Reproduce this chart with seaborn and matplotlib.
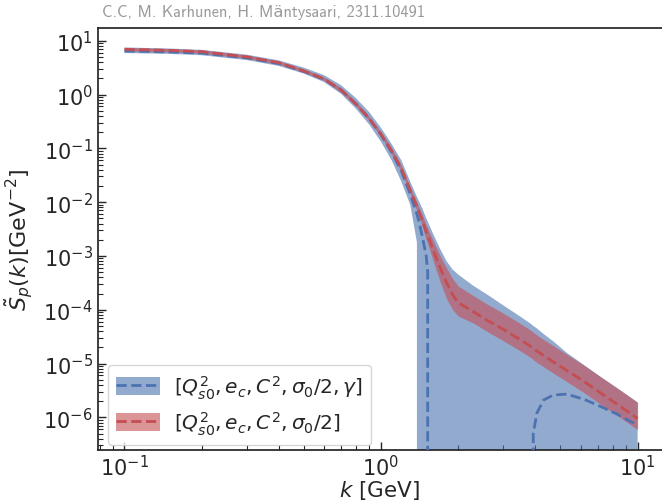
import numpy as np
import pandas as pd
import matplotlib
matplotlib.use("Agg")
import matplotlib.pyplot as plt
from matplotlib.patches import Patch
from matplotlib.lines import Line2D
import seaborn as sns

# ---------------- data ----------------
k = [0.1, 0.15, 0.2, 0.3, 0.4, 0.5, 0.6, 0.7, 0.8, 0.9, 1.0, 1.1, 1.2, 1.3,
     1.38, 1.40, 1.45, 1.50, 1.52, 1.54, 1.6, 1.7, 1.8, 1.9, 2.0, 2.3, 2.6,
     3.0, 3.5, 3.85, 3.92, 4.05, 4.3, 4.7, 5.3, 6.2, 7.2, 8.4, 10.0]

# fit without gamma (red): mean, upper, lower
red_mean = [6.9, 6.6, 6.24, 5.0, 3.9, 2.75, 1.95, 1.2, 0.66, 0.355, 0.182,
            8.9e-2, 4.2e-2, 1.66e-2, 8.3e-3, 6.9e-3, 4.5e-3, 2.8e-3, 2.4e-3,
            2.04e-3, 1.26e-3, 6.0e-4, 3.2e-4, 1.9e-4, 1.35e-4, 9.1e-5, 6.3e-5,
            4.3e-5, 2.75e-5, 2.05e-5, 1.9e-5, 1.7e-5, 1.41e-5, 1.07e-5, 7.4e-6,
            4.6e-6, 2.8e-6, 1.7e-6, 9.5e-7]
red_hi = [7.5, 7.15, 6.76, 5.4, 4.2, 2.98, 2.1, 1.33, 0.73, 0.39, 0.2,
          0.102, 4.8e-2, 1.9e-2, 9.8e-3, 8.3e-3, 5.7e-3, 3.7e-3, 3.3e-3,
          2.8e-3, 1.87e-3, 1.0e-3, 6.0e-4, 3.8e-4, 2.75e-4, 1.8e-4, 1.26e-4,
          8.6e-5, 5.5e-5, 4.1e-5, 3.8e-5, 3.4e-5, 2.8e-5, 2.14e-5, 1.48e-5,
          9.2e-6, 5.6e-6, 3.4e-6, 1.9e-6]
red_lo = [6.45, 6.15, 5.83, 4.68, 3.64, 2.57, 1.82, 1.1, 0.6, 0.324, 0.166,
          7.8e-2, 3.65e-2, 1.45e-2, 6.9e-3, 5.6e-3, 3.5e-3, 2.0e-3, 1.7e-3,
          1.4e-3, 7.9e-4, 3.3e-4, 1.6e-4, 1.0e-4, 7.6e-5, 5.6e-5, 3.9e-5,
          2.65e-5, 1.7e-5, 1.27e-5, 1.18e-5, 1.05e-5, 8.7e-6, 6.6e-6, 4.6e-6,
          2.85e-6, 1.73e-6, 1.05e-6, 5.9e-7]

# fit with gamma (blue): mean, upper, lower
blue_mean = [6.45, 6.17, 5.89, 4.79, 3.76, 2.69, 1.93, 1.2, 0.66, 0.355,
             0.178, 8.5e-2, 3.8e-2, 1.41e-2, 6.0e-3, 4.7e-3, 2.24e-3, 1.0e-3,
             5.0e-4, -2.0e-4, -3.0e-4, -2.5e-4, -1.5e-4, -1.0e-4, -8.0e-5,
             -5.0e-5, -3.0e-5, -1.5e-5, -6.0e-6, -1.0e-6, 5.0e-7, 1.2e-6,
             2.1e-6, 2.6e-6, 2.7e-6, 2.15e-6, 1.58e-6, 1.12e-6, 7.1e-7]
blue_hi = [7.5, 7.16, 6.76, 5.5, 4.31, 3.16, 2.29, 1.48, 0.85, 0.47, 0.24,
           0.12, 6.0e-2, 2.4e-2, 1.25e-2, 1.08e-2, 7.6e-3, 5.0e-3, 4.4e-3,
           3.8e-3, 2.5e-3, 1.35e-3, 8.0e-4, 5.6e-4, 4.5e-4, 2.75e-4, 1.9e-4,
           1.2e-4, 7.4e-5, 5.4e-5, 5.0e-5, 4.5e-5, 3.55e-5, 2.57e-5, 1.58e-5,
           9.3e-6, 5.6e-6, 3.4e-6, 1.9e-6]
blue_lo = [5.9, 5.7, 5.37, 4.37, 3.39, 2.45, 1.7, 1.02, 0.54, 0.275, 0.132,
           6.0e-2, 2.4e-2, 8.9e-3, 1.8e-3, -1.0e-3, -1.4e-3, -1.6e-3,
           -1.6e-3, -1.5e-3, -1.3e-3, -1.0e-3, -7.0e-4, -5.0e-4, -4.0e-4,
           -2.5e-4, -1.8e-4, -1.3e-4, -9.0e-5, -7.0e-5, -6.5e-5, -6.0e-5,
           -5.0e-5, -4.0e-5, -3.0e-5, -2.0e-5, -1.4e-5, -1.0e-5, -8.0e-6]

labels = [r"$[Q_{s0}^2, e_c, C^2, \sigma_0/2, \gamma]$",
          r"$[Q_{s0}^2, e_c, C^2, \sigma_0/2]$"]
title_text = "C.C, M. Karhunen, H. Mäntysaari, 2311.10491"

# ---------------- styling ----------------
sns.set_theme(style="ticks")
plt.rcParams["font.family"] = ["DejaVu Sans"]
plt.rcParams["mathtext.fontset"] = "dejavusans"

deep = sns.color_palette("deep")
c_blue = deep[0]
c_red = deep[3]

fig = plt.figure(figsize=(6.62, 5.02), dpi=100)
ax = fig.add_axes([0.1473, 0.1016, 0.8527, 0.84])

df = pd.DataFrame({"k": k, "red_mean": red_mean, "red_hi": red_hi,
                   "red_lo": red_lo, "blue_mean": blue_mean,
                   "blue_hi": blue_hi, "blue_lo": blue_lo})

ax.fill_between(df["k"], df["blue_lo"], df["blue_hi"], color=c_blue,
                alpha=0.6, lw=0, zorder=1)
ax.fill_between(df["k"], df["red_lo"], df["red_hi"], color=c_red,
                alpha=0.6, lw=0, zorder=2)
sns.lineplot(data=df, x="k", y="blue_mean", ax=ax, color=c_blue, lw=2,
             linestyle="--", estimator=None, sort=False, zorder=3)
sns.lineplot(data=df, x="k", y="red_mean", ax=ax, color=c_red, lw=2,
             linestyle="--", estimator=None, sort=False, zorder=4)

ax.set_xscale("log")
ax.set_yscale("log")
ax.set_xlim(0.0785, 12.45)
ax.set_ylim(2.47e-7, 17.0)

ax.set_xlabel(r"$k$ [GeV]", fontsize=15.5, labelpad=-1)
ax.set_ylabel(r"$\tilde{S}_p(k) [\mathrm{GeV}^{-2}]$", fontsize=16, labelpad=6)

ax.tick_params(which="both", direction="in", top=False, right=False,
               labelsize=15, color=".15")
ax.tick_params(which="major", length=6, width=1)
ax.tick_params(which="minor", length=3.5, width=0.8)
ax.tick_params(axis="x", which="major", pad=3)
ax.yaxis.set_minor_locator(matplotlib.ticker.LogLocator(base=10, subs=np.arange(2, 10), numticks=30))
ax.yaxis.set_major_locator(matplotlib.ticker.LogLocator(base=10, numticks=30))

for s in ["left", "bottom", "top"]:
    ax.spines[s].set_color(".15")
    ax.spines[s].set_linewidth(1.25)
ax.spines["right"].set_visible(False)

handles = [(Patch(facecolor=c_blue, alpha=0.6, lw=0),
            Line2D([], [], color=c_blue, lw=2, linestyle="--")),
           (Patch(facecolor=c_red, alpha=0.6, lw=0),
            Line2D([], [], color=c_red, lw=2, linestyle="--"))]
ax.legend(handles, labels, loc="lower left", fontsize=14.5, frameon=True,
          fancybox=True, handlelength=2.2, handleheight=1.0,
          handletextpad=0.7, borderaxespad=0, labelspacing=0.45,
          bbox_to_anchor=(0.0177, 0.0118))

fig.text(0.1536, 0.9655, title_text, color="#9a9a9a", fontsize=11.8,
         family=["cmss10", "DejaVu Sans"], va="baseline", ha="left")

fig.savefig("out.png", dpi=100)
